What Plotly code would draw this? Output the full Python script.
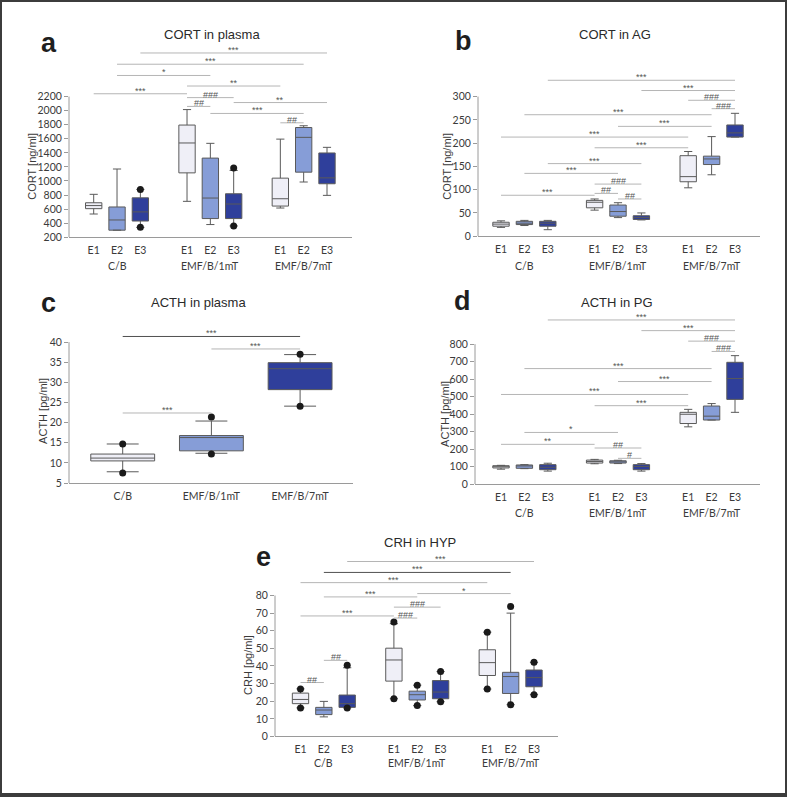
import plotly.graph_objects as go

W, H = 787, 801

GROUPS = ["C/B", "EMF/B/1mT", "EMF/B/7mT"]
EXPOS = ["E1", "E2", "E3"]

# box order in panels a, b, d, e: C/B E1-E3, EMF/B/1mT E1-E3, EMF/B/7mT E1-E3
# a: CORT in plasma [ng/ml]
A_LO = [530, 300, 340, 710, 380, 360, 615, 985, 795]
A_Q1 = [606, 300, 430, 1115, 465, 465, 643, 1125, 960]
A_MED = [650, 445, 560, 1540, 757, 672, 747, 1620, 1044]
A_Q3 = [690, 630, 760, 1795, 1325, 818, 1040, 1760, 1398]
A_HI = [810, 1170, 880, 2015, 1535, 1150, 1595, 1785, 1478]
A_DOT_BOX = [2, 2, 5, 5]
A_DOT_Y = [880, 340, 1185, 360]
A_TICKS = [200, 400, 600, 800, 1000, 1200, 1400, 1600, 1800, 2000, 2200]
A_SIG = [(2, 8, 2820, "***"), (1, 7, 2660, "***"), (1, 4, 2500, "*"),
         (3, 6, 2350, "**"), (0, 3, 2240, "***"), (3, 5, 2185, "###"),
         (5, 8, 2115, "**"), (3, 4, 2060, "##"), (4, 7, 1960, "***"),
         (6, 7, 1827, "##")]

# b: CORT in AG [ng/ml]
B_LO = [19, 23, 14, 56, 40, 35, 104, 132, 213]
B_Q1 = [21.5, 25, 21.5, 61, 43, 36, 117, 154, 213]
B_MED = [26, 28, 28, 73, 53, 40, 128, 166, 222]
B_Q3 = [30, 32, 32, 77, 67, 44, 173, 172, 239]
B_HI = [33, 34, 34, 80, 72, 50, 182, 214, 264]
B_DOT_BOX = []
B_DOT_Y = []
B_TICKS = [0, 50, 100, 150, 200, 250, 300]
B_SIG = [(2, 8, 335, "***"), (5, 8, 313, "***"), (6, 8, 292, "###"),
         (7, 8, 274, "###"), (1, 7, 261, "***"), (4, 7, 236, "***"),
         (0, 6, 213, "***"), (3, 6, 190, "***"), (2, 5, 156, "***"),
         (1, 4, 135, "***"), (3, 5, 112, "###"), (3, 4, 92, "##"),
         (0, 3, 88, "***"), (4, 5, 80, "##")]

# c: ACTH in plasma [pg/ml], one box per group
C_LO = [7.8, 12.4, 24.1]
C_Q1 = [10.5, 13.0, 28.2]
C_MED = [11.2, 16.3, 33.4]
C_Q3 = [12.2, 16.8, 34.9]
C_HI = [14.7, 20.4, 36.9]
C_DOT_BOX = [0, 0, 1, 1, 2, 2]
C_DOT_Y = [14.7, 7.5, 21.4, 12.2, 37.0, 24.1]
C_TICKS = [5, 10, 15, 20, 25, 30, 35, 40]
C_SIG = [(0, 2, 41.4, "***"), (1, 2, 38.3, "***"), (0, 1, 22.4, "***")]

# d: ACTH in PG [pg/ml]
D_LO = [85, 88, 74, 116, 117, 74, 327, 366, 410]
D_Q1 = [92, 90, 82, 120, 120, 82, 346, 366, 484]
D_MED = [100, 104, 96, 129, 127, 100, 399, 388, 603]
D_Q3 = [105, 109, 111, 137, 133, 111, 410, 446, 696]
D_HI = [107, 111, 119, 141, 136, 117, 427, 460, 734]
D_DOT_BOX = []
D_DOT_Y = []
D_TICKS = [0, 100, 200, 300, 400, 500, 600, 700, 800]
D_SIG = [(2, 8, 938, "***"), (5, 8, 877, "***"), (6, 8, 817, "###"),
         (7, 8, 758, "###"), (1, 7, 660, "***"), (4, 7, 586, "***"),
         (0, 6, 512, "***"), (3, 6, 448, "***"), (1, 4, 295, "*"),
         (0, 3, 227, "**"), (3, 5, 206, "##"), (4, 5, 147, "#")]

# e: CRH in HYP [pg/ml]
E_LO = [16.2, 11.1, 16.2, 21.4, 17.5, 19.7, 26.9, 18, 23.7]
E_Q1 = [18.6, 12.4, 16.5, 31.4, 20.7, 21.4, 34.6, 24.4, 28.2]
E_MED = [21, 15, 18.6, 43.4, 23.7, 25.2, 41.9, 34, 33.4]
E_Q3 = [24.6, 16.5, 23.5, 50.1, 25.7, 31.7, 49.2, 36.4, 37.7]
E_HI = [27, 19.9, 39, 64, 29.1, 36.8, 59.2, 70, 42.1]
E_DOT_BOX = [0, 0, 2, 2, 3, 3, 4, 4, 5, 5, 6, 6, 7, 7, 8, 8]
E_DOT_Y = [27, 16.2, 40.4, 16.2, 65, 21.4, 29.1, 17.5, 36.8, 19.7,
           59.2, 26.9, 73.8, 18, 42.1, 23.7]
E_TICKS = [0, 10, 20, 30, 40, 50, 60, 70, 80]
E_SIG = [(2, 8, 99.3, "***"), (1, 7, 93.1, "***"), (0, 6, 87.3, "***"),
         (1, 4, 79.2, "***"), (4, 7, 81.1, "*"), (3, 5, 73.4, "###"),
         (0, 3, 68.4, "***"), (3, 4, 67.2, "###"), (1, 2, 43.2, "##"),
         (0, 1, 30.6, "##")]

# ---------------------------------------------------------------------------
# styling / layout helpers
# ---------------------------------------------------------------------------
BOX_COLORS = ["#efeff7", "#869dd7", "#2f3f9b"]
EDGE = "#5a5a5a"
AXIS = "#9a9a9a"
TEXT = "#3a3a3a"
TICK_FONT = dict(family="Lato, Liberation Sans, sans-serif", size=10.5, color=TEXT)
SLOTS9 = [0, 1, 2, 4, 5, 6, 8, 9, 10]


def fx(p):
    return p / W


def fy(p):
    return 1 - p / H


fig = go.Figure()
shapes = []
annotations = []


def label(x, y, text, font, **kw):
    """Paper-positioned text, centred on the given pixel."""
    d = dict(xref="paper", yref="paper", x=fx(x), y=fy(y), text=text,
             showarrow=False, xanchor="center", yanchor="middle", font=font)
    d.update(kw)
    annotations.append(d)


def panel(n, spec, slots, lo, q1, med, q3, hi, dot_box, dot_y, sig, ticks,
          ticktext, colors, title, letter, ylabel, group_labels, dark=()):
    sfx = "" if n == 1 else str(n)
    xr = [(spec["x0"] - spec["pos0"]) / spec["step"],
          (spec["x1"] - spec["pos0"]) / spec["step"]]
    y0, y1 = ticks[0], ticks[-1]
    upp = (y1 - y0) / (spec["ybot"] - spec["ytop"])
    yr = [y0, y1 + (spec["ytop"] - spec["yext"]) * upp]

    for i in range(len(slots)):
        fig.add_trace(go.Box(
            x=[slots[i]], q1=[q1[i]], median=[med[i]], q3=[q3[i]],
            lowerfence=[lo[i]], upperfence=[hi[i]],
            width=spec["bw"], whiskerwidth=0.5, boxpoints=False,
            fillcolor=colors[i], line=dict(color=EDGE, width=1),
            xaxis="x" + sfx, yaxis="y" + sfx, showlegend=False,
            hoverinfo="skip",
        ))
    if dot_box:
        fig.add_trace(go.Scatter(
            x=[slots[b] for b in dot_box], y=dot_y, mode="markers",
            marker=dict(color="#1a1a1a", size=7),
            xaxis="x" + sfx, yaxis="y" + sfx, showlegend=False,
        ))

    for k, (a, b, y, mark) in enumerate(sig):
        col = "#505050" if k in dark else "#b5b5b5"
        shapes.append(dict(type="line", xref="x" + sfx, yref="y" + sfx,
                           x0=slots[a], x1=slots[b], y0=y, y1=y,
                           line=dict(color=col, width=1)))
        annotations.append(dict(
            xref="x" + sfx, yref="y" + sfx, x=(slots[a] + slots[b]) / 2, y=y,
            text=mark, showarrow=False, xanchor="center", yanchor="bottom",
            yshift=-4,
            font=dict(family="Liberation Sans, Arial", size=9, color="#555555"),
        ))

    # y axis line only up to the top tick
    shapes.append(dict(type="line", xref="x" + sfx + " domain", yref="y" + sfx,
                       x0=0, x1=0, y0=y0, y1=y1,
                       line=dict(color=AXIS, width=1)))

    fig.update_layout(**{
        "xaxis" + sfx: dict(
            domain=[fx(spec["x0"]), fx(spec["x1"])], range=xr,
            anchor="y" + sfx, showline=True, linecolor=AXIS, linewidth=1,
            showgrid=False, zeroline=False, ticks="", ticklabelstandoff=3,
            tickvals=slots, ticktext=ticktext, tickfont=TICK_FONT,
            fixedrange=True,
        ),
        "yaxis" + sfx: dict(
            domain=[fy(spec["ybot"]), fy(spec["yext"])], range=yr,
            anchor="x" + sfx, showline=False, showgrid=False, zeroline=False,
            ticks="outside", ticklen=4, tickcolor=AXIS,
            tickvals=ticks, tickfont=TICK_FONT, fixedrange=True,
        ),
    })

    label(*spec["title"], title,
          dict(family="Liberation Sans, Arial", size=13, color="#2a2a2a"))
    label(*spec["letter"], "<b>" + letter + "</b>",
          dict(family="Liberation Sans, Arial", size=27, color="#1e1e1e"))
    label(*spec["ylab"], ylabel,
          dict(family="Liberation Sans, Arial", size=11, color=TEXT),
          textangle=-90)
    if group_labels:
        for g, name in enumerate(GROUPS):
            annotations.append(dict(xref="x" + sfx, yref="paper",
                                    x=slots[3 * g + 1], y=fy(spec["grp"]),
                                    xanchor="center", yanchor="middle",
                                    text=name, showarrow=False,
                                    font=TICK_FONT))


SPEC_A = dict(x0=69, x1=352, pos0=93.7, step=23.33, ybot=239, ytop=97.3,
              yext=45, bw=0.7, title=(212, 35), letter=(49, 43),
              ylab=(32, 168), grp=268)
SPEC_B = dict(x0=478, x1=760, pos0=501, step=23.4, ybot=238, ytop=97.3,
              yext=70, bw=0.7, title=(615, 35), letter=(463, 41),
              ylab=(447, 167), grp=268)
SPEC_C = dict(x0=69, x1=353, pos0=122.7, step=88.7, ybot=486.7, ytop=344.7,
              yext=330, bw=0.72, title=(198, 305), letter=(48, 305),
              ylab=(43, 414), grp=None)
SPEC_D = dict(x0=475, x1=760, pos0=501, step=23.4, ybot=487.7, ytop=346.7,
              yext=315, bw=0.7, title=(617, 305), letter=(462, 303),
              ylab=(445, 417), grp=517)
SPEC_E = dict(x0=275, x1=558, pos0=300.5, step=23.35, ybot=742, ytop=600,
              yext=558, bw=0.7, title=(420, 547), letter=(263, 561),
              ylab=(248, 670), grp=769)

col9 = [BOX_COLORS[i % 3] for i in range(9)]

panel(1, SPEC_A, SLOTS9, A_LO, A_Q1, A_MED, A_Q3, A_HI, A_DOT_BOX, A_DOT_Y,
      A_SIG, A_TICKS, EXPOS * 3, col9, "CORT in plasma", "a",
      "CORT [ng/ml]", True)
panel(2, SPEC_B, SLOTS9, B_LO, B_Q1, B_MED, B_Q3, B_HI, B_DOT_BOX, B_DOT_Y,
      B_SIG, B_TICKS, EXPOS * 3, col9, "CORT in AG", "b",
      "CORT [ng/ml]", True)
panel(3, SPEC_C, [0, 1, 2], C_LO, C_Q1, C_MED, C_Q3, C_HI, C_DOT_BOX, C_DOT_Y,
      C_SIG, C_TICKS, GROUPS, BOX_COLORS, "ACTH in plasma", "c",
      "ACTH [pg/ml]", False, dark=(0,))
panel(4, SPEC_D, SLOTS9, D_LO, D_Q1, D_MED, D_Q3, D_HI, D_DOT_BOX, D_DOT_Y,
      D_SIG, D_TICKS, EXPOS * 3, col9, "ACTH in PG", "d",
      "ACTH [pg/ml]", True)
panel(5, SPEC_E, SLOTS9, E_LO, E_Q1, E_MED, E_Q3, E_HI, E_DOT_BOX, E_DOT_Y,
      E_SIG, E_TICKS, EXPOS * 3, col9, "CRH in HYP", "e",
      "CRH [pg/ml]", True, dark=(1,))

# outer frame of the figure
shapes.append(dict(type="rect", xref="paper", yref="paper", x0=0, y0=0,
                   x1=1, y1=1, line=dict(color="#3c3c3c", width=4)))

fig.update_layout(
    width=W, height=H,
    margin=dict(l=0, r=0, t=0, b=0),
    paper_bgcolor="white", plot_bgcolor="white",
    shapes=shapes, annotations=annotations,
    showlegend=False,
)

# drop the page's default body margin and any overflow so the figure fills
# the window exactly
PAGE_FIX = (
    "document.documentElement.style.overflow = 'hidden';"
    "document.body.style.margin = '0';"
    "document.body.style.overflow = 'hidden';"
    "document.body.style.height = '%dpx';" % H
)
fig.write_html("out.html", config={"displayModeBar": False},
               post_script=PAGE_FIX)
